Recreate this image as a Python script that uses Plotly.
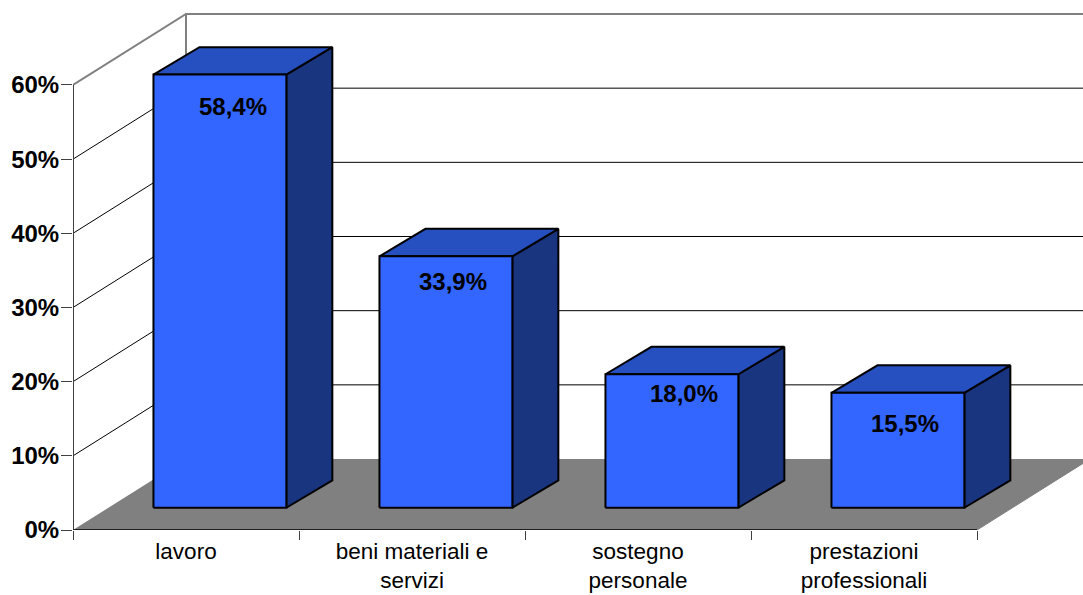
import plotly.graph_objects as go

# Chart content
categories = ["lavoro", "beni materiali e<br>servizi", "sostegno<br>personale", "prestazioni<br>professionali"]
values = [58.4, 33.9, 18.0, 15.5]
y_ticks = [0, 10, 20, 30, 40, 50, 60]
y_tick_labels = ["0%", "10%", "20%", "30%", "40%", "50%", "60%"]

# Oblique projection: how far the back wall sits from the front plane, in axis units
WALL_DX, WALL_DY = 0.5, 9.57
# Bars start part-way into the floor and have a fixed depth
BAR_DX0, BAR_DY0 = 0.15, 3.0
BAR_DX, BAR_DY = 0.2035, 3.7
BAR_WIDTH = 0.588
N = len(categories)

FONT = "Liberation Sans, Arial, sans-serif"
FRONT, TOP, SIDE = "#3366ff", "#2650bf", "#1a3580"
EDGE = "#000000"

fig = go.Figure()


def poly(xs, ys, fill=None, color=None, width=1):
    """Add a closed filled polygon, or an open polyline when fill is None."""
    fig.add_trace(go.Scatter(
        x=xs, y=ys, mode="lines", hoverinfo="skip", showlegend=False,
        fill="toself" if fill else "none", fillcolor=fill,
        line=dict(color=color or "rgba(0,0,0,0)", width=width),
    ))


# Floor
poly([0, WALL_DX, N + WALL_DX, N, 0], [0, WALL_DY, WALL_DY, 0, 0], fill="#808080")

# Gridlines across the left wall and the back wall
for t in y_ticks[1:-1]:
    poly([0, WALL_DX, N + WALL_DX], [t, t + WALL_DY, t + WALL_DY], color="#000000", width=1)

# Outer frame of the walls
top = y_ticks[-1]
poly([0, WALL_DX, N + WALL_DX], [top, top + WALL_DY, top + WALL_DY], color="#808080", width=2)
poly([WALL_DX, WALL_DX], [WALL_DY, top + WALL_DY], color="#808080", width=2)

# Axis lines
poly([0, 0], [0, top], color="#404040", width=2)
poly([0, N], [0, 0], color="#202020", width=2)
poly([N, N + WALL_DX], [0, WALL_DY], color="#808080", width=1)

# Bars: front, top and side faces; each front face rises by its value from the floor
for i, v in enumerate(values):
    x0 = i + 0.5 + BAR_DX0 - BAR_WIDTH / 2
    x1 = x0 + BAR_WIDTH
    y0 = BAR_DY0
    y1 = BAR_DY0 + v
    poly([x1, x1 + BAR_DX, x1 + BAR_DX, x1, x1],
         [y0, y0 + BAR_DY, y1 + BAR_DY, y1, y0], fill=SIDE, color=EDGE, width=2)
    poly([x0, x0 + BAR_DX, x1 + BAR_DX, x1, x0],
         [y1, y1 + BAR_DY, y1 + BAR_DY, y1, y1], fill=TOP, color=EDGE, width=2)
    poly([x0, x1, x1, x0, x0], [y0, y0, y1, y1, y0], fill=FRONT, color=EDGE, width=2)

# Value labels, each nudged inside its bar
label_shifts = [(13.5, -32), (7.5, -25), (12, -19), (7.5, -31)]
for i, v in enumerate(values):
    dx, dy = label_shifts[i]
    fig.add_annotation(
        x=i + 0.5 + BAR_DX0, y=BAR_DY0 + v, text=f"{v:.1f}".replace(".", ",") + "%",
        showarrow=False, xshift=dx, yshift=dy, xanchor="center", yanchor="middle",
        font=dict(family=FONT, size=24, color="#000000", weight=700),
    )

fig.update_layout(
    width=1083, height=595,
    margin=dict(l=73, r=0, t=0, b=65),
    paper_bgcolor="white", plot_bgcolor="white",
    showlegend=False,
    xaxis=dict(
        automargin=False,
        range=[0, 1010 / 226], showgrid=False, zeroline=False, showline=False,
        tickmode="array", tickvals=[i + 0.5 for i in range(N)], ticktext=categories,
        ticks="", ticklabelstandoff=5, tickfont=dict(family=FONT, size=22.5, color="#000000"),
        minor=dict(tickmode="array", tickvals=list(range(N + 1)), ticks="outside",
                   ticklen=9, tickwidth=1, tickcolor="#404040"),
    ),
    yaxis=dict(
        automargin=False,
        range=[0, 530 / 7.417], showgrid=False, zeroline=False, showline=False,
        tickmode="array", tickvals=y_ticks, ticktext=y_tick_labels,
        ticks="outside", ticklen=11, tickwidth=1, tickcolor="#404040",
        ticklabelstandoff=-3,
        tickfont=dict(family=FONT, size=24, color="#000000", weight=700),
    ),
)

fig.write_html("out.html")
